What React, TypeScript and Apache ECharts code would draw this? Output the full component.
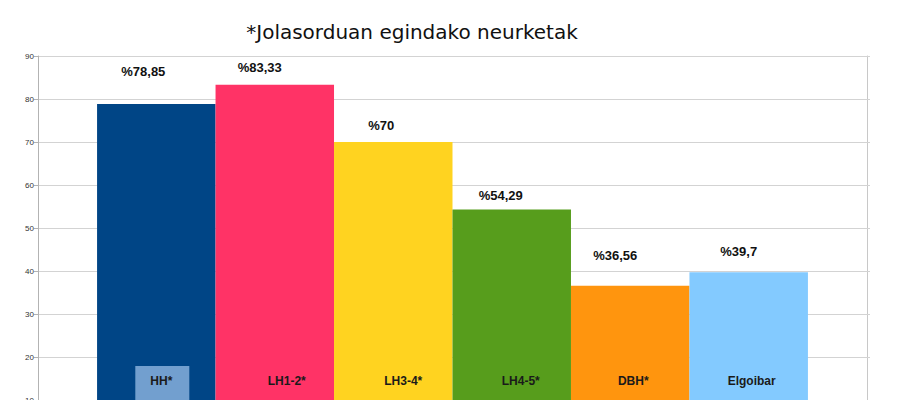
import React, { useEffect, useRef } from "react";
import * as echarts from "echarts";

const categories = ["HH*", "LH1-2*", "LH3-4*", "LH4-5*", "DBH*", "Elgoibar"];
const values = [78.85, 83.33, 70, 54.29, 36.56, 39.7];
const yTicks = [0, 10, 20, 30, 40, 50, 60, 70, 80, 90];
const colors = ["#004586", "#ff3366", "#ffd320", "#579d1c", "#ff950e", "#83caff"];
// label placement tweaks (style, not data)
const valueLabelShift = [
  [-13, -26],
  [-15, -11],
  [-12, -10],
  [-11, -8],
  [-15, -24],
  [-10, -14],
];
const nameLabelShiftX = [6, 12, 10, 9, 3, 3];

export default function App() {
  const ref = useRef<HTMLDivElement>(null);
  useEffect(() => {
    document.body.style.margin = "0";
    const chart = echarts.init(ref.current!, null, { renderer: "svg" });
    const fmt = (v: number) => "%" + String(v).replace(".", ",");
    const series: any[] = [];
    categories.forEach((name, i) => {
      series.push({
        type: "bar",
        name,
        data: [values[i]],
        barGap: "0%",
        barCategoryGap: "14.25%",
        itemStyle: { color: colors[i] },
        label: {
          show: true,
          position: "top",
          distance: 0,
          offset: [valueLabelShift[i][0], valueLabelShift[i][1]],
          formatter: (p: any) => fmt(p.value),
          fontFamily: "Liberation Sans",
          fontSize: 13,
          fontWeight: "bold",
          color: "#111",
        },
      });
    });
    // overlay series carrying the in-bar name labels
    categories.forEach((name, i) => {
      series.push({
        type: "bar",
        name: name + "_lbl",
        data: [values[i]],
        xAxisIndex: 1,
        barGap: "0%",
        barCategoryGap: "14.25%",
        itemStyle: { color: "rgba(0,0,0,0)" },
        silent: true,
        z: 3,
        label: {
          show: true,
          position: "insideBottom",
          distance: i === 0 ? 42 : 56,
          offset: [nameLabelShiftX[i], 0],
          formatter: name,
          fontFamily: "Liberation Sans",
          fontSize: 12,
          fontWeight: "bold",
          color: "#1a1a1a",
          ...(i === 0
            ? {
                backgroundColor: "#729fcf",
                padding: [9, 17, 14, 15],
              }
            : {}),
        },
      });
    });

    chart.setOption({
      animation: false,
      backgroundColor: "#ffffff",
      title: {
        text: "*Jolasorduan egindako neurketak",
        left: 407,
        textAlign: "center",
        top: 17,
        textStyle: {
          fontFamily: "DejaVu Sans",
          fontSize: 20,
          fontWeight: "normal",
          color: "#111",
        },
      },
      grid: { left: 38, right: 33, top: 56, bottom: 27 },
      xAxis: [
        {
          type: "category",
          data: ["x"],
          axisLabel: { show: false },
          axisTick: { show: false },
          axisLine: { lineStyle: { color: "#b3b3b3" } },
        },
        {
          type: "category",
          data: ["x"],
          show: false,
        },
      ],
      yAxis: [
        {
          type: "value",
          min: yTicks[0],
          max: yTicks[yTicks.length - 1],
          interval: 10,
          axisLine: { show: true, lineStyle: { color: "#b3b3b3" } },
          axisTick: { show: true, length: 4, lineStyle: { color: "#b3b3b3" } },
          axisLabel: {
            fontFamily: "Liberation Sans",
            fontSize: 8,
            color: "#333",
            margin: 4,
          },
          splitLine: { lineStyle: { color: "#d3d3d3" } },
        },
        {
          type: "value",
          position: "right",
          min: yTicks[0],
          max: yTicks[yTicks.length - 1],
          interval: 10,
          axisLine: { show: true, lineStyle: { color: "#c8c8c8" } },
          axisTick: { show: true, length: 3, lineStyle: { color: "#d3d3d3" } },
          axisLabel: { show: false },
          splitLine: { show: false },
        },
      ],
      series,
    });
    return () => chart.dispose();
  }, []);
  return (
    <div style={{ width: 900, height: 400, overflow: "hidden", background: "#fff" }}>
      <div ref={ref} style={{ width: 900, height: 470 }} />
    </div>
  );
}
